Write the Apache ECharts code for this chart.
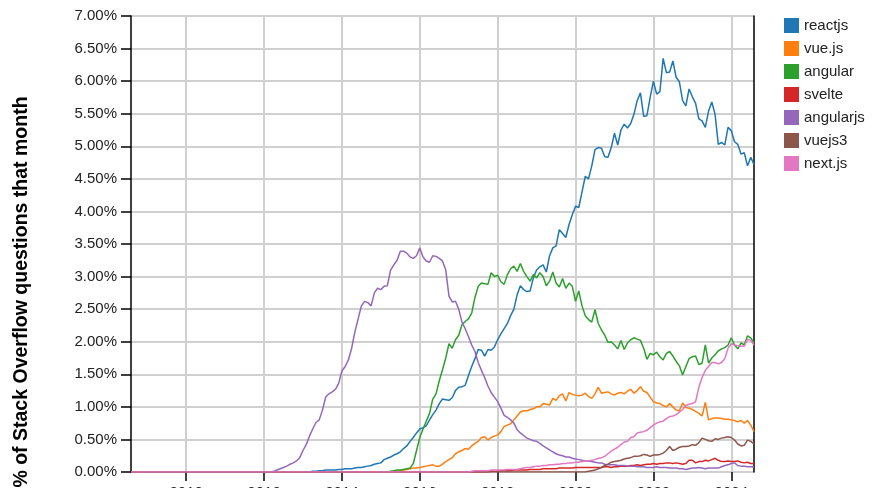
<!DOCTYPE html>
<html>
<head>
<meta charset="utf-8">
<script src="https://cdn.jsdelivr.net/npm/echarts@6/dist/echarts.min.js"></script>
<style>
  html, body { margin: 0; padding: 0; background: #fff; }
  #main { width: 880px; height: 488px; }
</style>
</head>
<body>
<div id="main"></div>
<script>
// months from 2008-08 to 2024-08
var months = [];
for (var y = 2008; y <= 2024; y++) {
	for (var m = 1; m <= 12; m++) {
		if (y == 2008 && m < 8) continue;
		if (y == 2024 && m > 8) break;
		months.push(y + '-' + (m < 10 ? '0' + m : m));
	}
}

var tagNames = ['reactjs', 'vue.js', 'angular', 'svelte', 'angularjs', 'vuejs3', 'next.js'];
var tagColors = ['#1f77b4', '#ff7f0e', '#2ca02c', '#d62728', '#9467bd', '#8c564b', '#e377c2'];

// % of questions per month, one row per year (2008 starts at Aug, 2024 ends at Aug)
var reactjs = [
	0,0,0,0,0,
	0,0,0,0,0,0,0,0,0,0,0,0,
	0,0,0,0,0,0,0,0,0,0,0,0,
	0,0,0,0,0,0,0,0,0,0,0,0,
	0,0,0,0,0,0,0,0,0,0,0,0,
	0,0,0,0.01,0.01,0.02,0.02,0.03,0.03,0.03,0.03,0.04,
	0.04,0.05,0.05,0.05,0.06,0.07,0.07,0.08,0.09,0.10,0.12,0.13,
	0.14,0.19,0.21,0.23,0.26,0.28,0.31,0.36,0.40,0.47,0.53,0.60,
	0.66,0.68,0.71,0.80,0.88,0.95,1.05,1.12,1.11,1.10,1.14,1.25,
	1.30,1.31,1.33,1.48,1.62,1.74,1.88,1.87,1.78,1.88,1.87,1.92,
	2.03,2.12,2.20,2.28,2.40,2.50,2.72,2.86,2.80,2.77,2.78,2.98,
	3.10,3.15,3.18,3.07,3.32,3.44,3.47,3.72,3.66,3.60,3.80,3.95,
	4.08,4.06,4.30,4.54,4.50,4.70,4.95,4.98,4.97,4.84,4.83,4.98,
	5.20,5.02,5.25,5.34,5.28,5.35,5.49,5.70,5.82,5.46,5.47,5.75,
	6.00,5.80,5.84,6.35,6.13,6.14,6.31,6.06,5.99,5.70,5.62,5.88,
	5.76,5.66,5.42,5.39,5.29,5.54,5.68,5.49,5.03,5.06,5.02,5.29,
	5.24,5.07,5.03,4.88,4.90,4.70,4.83,4.72
];
var vuejs = [
	0,0,0,0,0,
	0,0,0,0,0,0,0,0,0,0,0,0,
	0,0,0,0,0,0,0,0,0,0,0,0,
	0,0,0,0,0,0,0,0,0,0,0,0,
	0,0,0,0,0,0,0,0,0,0,0,0,
	0,0,0,0,0,0,0,0,0,0,0,0,
	0,0,0,0,0,0,0,0,0,0,0,0,
	0,0,0,0,0,0.01,0.02,0.03,0.04,0.05,0.06,0.06,
	0.07,0.08,0.09,0.10,0.11,0.09,0.09,0.12,0.16,0.19,0.22,0.28,
	0.31,0.33,0.36,0.35,0.40,0.44,0.47,0.53,0.54,0.49,0.53,0.55,
	0.57,0.62,0.70,0.72,0.74,0.80,0.86,0.92,0.94,0.94,0.96,0.97,
	1.00,1.00,1.05,1.04,1.03,1.13,1.10,1.17,1.20,1.09,1.22,1.19,
	1.18,1.17,1.18,1.21,1.16,1.13,1.20,1.30,1.21,1.22,1.23,1.20,
	1.18,1.21,1.22,1.20,1.24,1.27,1.21,1.25,1.31,1.24,1.22,1.15,
	1.08,1.06,1.05,1.02,1.00,1.05,1.00,0.95,0.94,1.06,0.99,0.98,
	0.96,0.93,0.90,0.86,1.07,0.80,0.82,0.83,0.83,0.82,0.81,0.81,
	0.80,0.79,0.77,0.79,0.75,0.79,0.72,0.62
];
var angular = [
	0,0,0,0,0,
	0,0,0,0,0,0,0,0,0,0,0,0,
	0,0,0,0,0,0,0,0,0,0,0,0,
	0,0,0,0,0,0,0,0,0,0,0,0,
	0,0,0,0,0,0,0,0,0,0,0,0,
	0,0,0,0,0,0,0,0,0,0,0,0,
	0,0,0,0,0,0,0,0,0,0,0,0,
	0,0,0,0.01,0.02,0.03,0.03,0.04,0.05,0.06,0.13,0.33,
	0.53,0.66,0.78,0.90,1.12,1.20,1.40,1.57,1.75,1.97,1.90,2.03,
	2.10,2.26,2.31,2.35,2.44,2.68,2.85,2.90,2.89,2.88,3.06,3.00,
	3.02,2.92,2.88,3.03,3.12,3.16,3.08,3.20,3.08,3.00,2.93,3.03,
	2.98,3.06,3.00,2.86,2.93,3.07,2.90,2.84,2.97,2.82,2.90,2.85,
	2.62,2.78,2.55,2.40,2.34,2.30,2.49,2.28,2.18,2.10,1.99,2.00,
	1.95,1.89,2.02,1.88,1.98,2.03,2.06,2.04,2.02,1.90,1.73,1.82,
	1.80,1.84,1.77,1.72,1.82,1.85,1.78,1.70,1.63,1.49,1.62,1.74,
	1.77,1.78,1.65,1.67,1.95,1.67,1.75,1.80,1.86,1.89,1.91,1.95,
	2.06,1.95,1.89,1.98,1.95,2.09,2.06,1.98
];
var svelte = [
	0,0,0,0,0,
	0,0,0,0,0,0,0,0,0,0,0,0,
	0,0,0,0,0,0,0,0,0,0,0,0,
	0,0,0,0,0,0,0,0,0,0,0,0,
	0,0,0,0,0,0,0,0,0,0,0,0,
	0,0,0,0,0,0,0,0,0,0,0,0,
	0,0,0,0,0,0,0,0,0,0,0,0,
	0,0,0,0,0,0,0,0,0,0,0,0,
	0,0,0,0,0,0,0,0,0,0,0,0,
	0,0,0,0,0,0,0,0,0,0,0.01,0.01,
	0.01,0.02,0.02,0.02,0.02,0.03,0.03,0.03,0.03,0.03,0.04,0.04,
	0.04,0.04,0.05,0.05,0.05,0.05,0.05,0.06,0.06,0.06,0.06,0.06,
	0.07,0.07,0.07,0.07,0.07,0.07,0.07,0.07,0.07,0.08,0.08,0.07,
	0.08,0.08,0.09,0.09,0.09,0.10,0.10,0.11,0.10,0.11,0.12,0.12,
	0.13,0.12,0.13,0.13,0.14,0.14,0.13,0.14,0.13,0.12,0.13,0.18,
	0.18,0.14,0.16,0.16,0.18,0.17,0.19,0.21,0.18,0.16,0.16,0.17,
	0.16,0.16,0.17,0.15,0.14,0.15,0.13,0.13
];
var angularjs = [
	0,0,0,0,0,
	0,0,0,0,0,0,0,0,0,0,0,0,
	0,0,0,0,0,0,0,0,0,0,0,0,
	0,0,0,0,0,0,0,0,0,0,0,0,
	0,0,0,0.01,0.03,0.05,0.07,0.09,0.12,0.14,0.17,0.22,
	0.33,0.42,0.55,0.66,0.76,0.80,0.95,1.15,1.20,1.23,1.27,1.36,
	1.55,1.62,1.72,1.90,2.15,2.35,2.55,2.62,2.60,2.55,2.75,2.82,
	2.80,2.85,2.86,3.10,3.18,3.25,3.39,3.39,3.36,3.30,3.28,3.32,
	3.44,3.30,3.24,3.22,3.32,3.31,3.28,3.24,3.10,2.70,2.61,2.62,
	2.50,2.30,2.20,2.08,1.95,1.85,1.68,1.56,1.45,1.32,1.22,1.15,
	1.08,0.98,0.87,0.84,0.80,0.75,0.65,0.60,0.56,0.52,0.50,0.48,
	0.47,0.44,0.40,0.37,0.34,0.31,0.28,0.26,0.25,0.23,0.23,0.21,
	0.20,0.19,0.18,0.17,0.17,0.16,0.15,0.14,0.14,0.12,0.11,0.11,
	0.11,0.10,0.10,0.10,0.09,0.09,0.09,0.08,0.08,0.08,0.07,0.07,
	0.07,0.08,0.07,0.07,0.07,0.06,0.06,0.06,0.05,0.05,0.04,0.05,
	0.06,0.06,0.07,0.06,0.05,0.06,0.06,0.06,0.06,0.08,0.10,0.11,
	0.13,0.14,0.10,0.09,0.09,0.08,0.08,0.08
];
var vuejs3 = [
	0,0,0,0,0,
	0,0,0,0,0,0,0,0,0,0,0,0,
	0,0,0,0,0,0,0,0,0,0,0,0,
	0,0,0,0,0,0,0,0,0,0,0,0,
	0,0,0,0,0,0,0,0,0,0,0,0,
	0,0,0,0,0,0,0,0,0,0,0,0,
	0,0,0,0,0,0,0,0,0,0,0,0,
	0,0,0,0,0,0,0,0,0,0,0,0,
	0,0,0,0,0,0,0,0,0,0,0,0,
	0,0,0,0,0,0,0,0,0,0,0,0,
	0,0,0,0,0,0,0,0,0,0,0,0,
	0,0,0,0,0,0,0,0,0,0,0,0,
	0,0,0,0,0.01,0.02,0.03,0.05,0.07,0.10,0.12,0.15,
	0.16,0.17,0.18,0.20,0.21,0.22,0.24,0.24,0.25,0.27,0.26,0.24,
	0.26,0.26,0.27,0.29,0.33,0.39,0.33,0.35,0.38,0.39,0.39,0.40,
	0.42,0.41,0.45,0.52,0.50,0.48,0.47,0.51,0.50,0.52,0.53,0.54,
	0.53,0.49,0.43,0.40,0.41,0.49,0.47,0.43
];
var nextjs = [
	0,0,0,0,0,
	0,0,0,0,0,0,0,0,0,0,0,0,
	0,0,0,0,0,0,0,0,0,0,0,0,
	0,0,0,0,0,0,0,0,0,0,0,0,
	0,0,0,0,0,0,0,0,0,0,0,0,
	0,0,0,0,0,0,0,0,0,0,0,0,
	0,0,0,0,0,0,0,0,0,0,0,0,
	0,0,0,0,0,0,0,0,0,0,0,0,
	0,0,0,0,0,0,0,0,0,0,0,0,
	0,0,0,0,0.01,0.02,0.02,0.02,0.02,0.02,0.03,0.03,
	0.03,0.03,0.03,0.04,0.04,0.04,0.04,0.05,0.06,0.07,0.07,0.08,
	0.09,0.09,0.10,0.10,0.11,0.11,0.12,0.12,0.13,0.13,0.14,0.14,
	0.15,0.15,0.16,0.17,0.17,0.18,0.19,0.21,0.22,0.24,0.28,0.32,
	0.35,0.38,0.42,0.46,0.47,0.53,0.54,0.60,0.61,0.62,0.64,0.68,
	0.72,0.75,0.77,0.78,0.82,0.85,0.86,0.88,0.92,0.96,1.02,1.04,
	1.05,1.08,1.30,1.45,1.56,1.62,1.68,1.68,1.66,1.68,1.74,1.90,
	1.97,1.95,1.94,1.93,1.93,2.04,2.02,1.95
];

var tagValues = [reactjs, vuejs, angular, svelte, angularjs, vuejs3, nextjs];

var fontName = 'Liberation Sans';
var gridColor = '#d0d0d0';

// ticks, labels and grid only on january of even years
function evenYear(index, value) {
	return value.slice(5) == '01' && parseInt(value.slice(0, 4)) % 2 == 0;
}

var series = [];
for (var i = 0; i < tagNames.length; i++) {
	series.push({
		name: tagNames[i],
		type: 'line',
		data: tagValues[i],
		showSymbol: false,
		symbol: 'none',
		color: tagColors[i],
		lineStyle: { width: 1.5 },
		emphasis: { disabled: true }
	});
}

var option = {
	animation: false,
	textStyle: { fontFamily: fontName },
	grid: {
		left: 131,
		right: 126,
		top: 16,
		bottom: 16,
		containLabel: false,
		outerBoundsMode: 'none'
	},
	legend: {
		orient: 'vertical',
		left: 784,
		top: 18,
		padding: 0,
		icon: 'rect',
		itemWidth: 15,
		itemHeight: 15,
		itemGap: 8,
		selectedMode: false,
		textStyle: { fontSize: 15, color: '#222', fontFamily: fontName },
		data: tagNames
	},
	xAxis: {
		type: 'category',
		boundaryGap: false,
		data: months,
		axisLine: { show: false },
		axisTick: {
			show: true,
			interval: evenYear,
			length: 9,
			lineStyle: { color: '#000', width: 1.5 }
		},
		axisLabel: {
			interval: evenYear,
			margin: 13,
			fontSize: 15,
			color: '#222',
			fontFamily: fontName,
			formatter: function (v) { return v.slice(0, 4); }
		},
		splitLine: {
			show: true,
			interval: evenYear,
			lineStyle: { color: gridColor, width: 2 }
		}
	},
	yAxis: [{
		type: 'value',
		min: 0,
		max: 7,
		interval: 0.5,
		axisLine: { show: true, lineStyle: { color: '#000', width: 1.5 } },
		axisTick: { show: true, length: 10, lineStyle: { color: '#000', width: 1.5 } },
		axisLabel: {
			margin: 14,
			fontSize: 15,
			color: '#222',
			fontFamily: fontName,
			formatter: function (v) { return v.toFixed(2) + '%'; }
		},
		splitLine: { lineStyle: { color: gridColor, width: 2 } }
	}, {
		// plain dark line on the right edge
		type: 'value',
		position: 'right',
		min: 0,
		max: 7,
		interval: 0.5,
		axisLine: { show: true, lineStyle: { color: '#000', width: 1.5 } },
		axisTick: { show: false },
		axisLabel: { show: false },
		splitLine: { show: false }
	}],
	graphic: [{
		type: 'text',
		x: 22,
		y: 292,
		rotation: Math.PI / 2,
		style: {
			text: '% of Stack Overflow questions that month',
			fontSize: 19.5,
			fontWeight: 'bold',
			fontFamily: fontName,
			fill: '#000',
			align: 'center',
			verticalAlign: 'middle'
		}
	}],
	series: series
};

var myChart = echarts.init(document.getElementById('main'));
myChart.setOption(option);
</script>
</body>
</html>
